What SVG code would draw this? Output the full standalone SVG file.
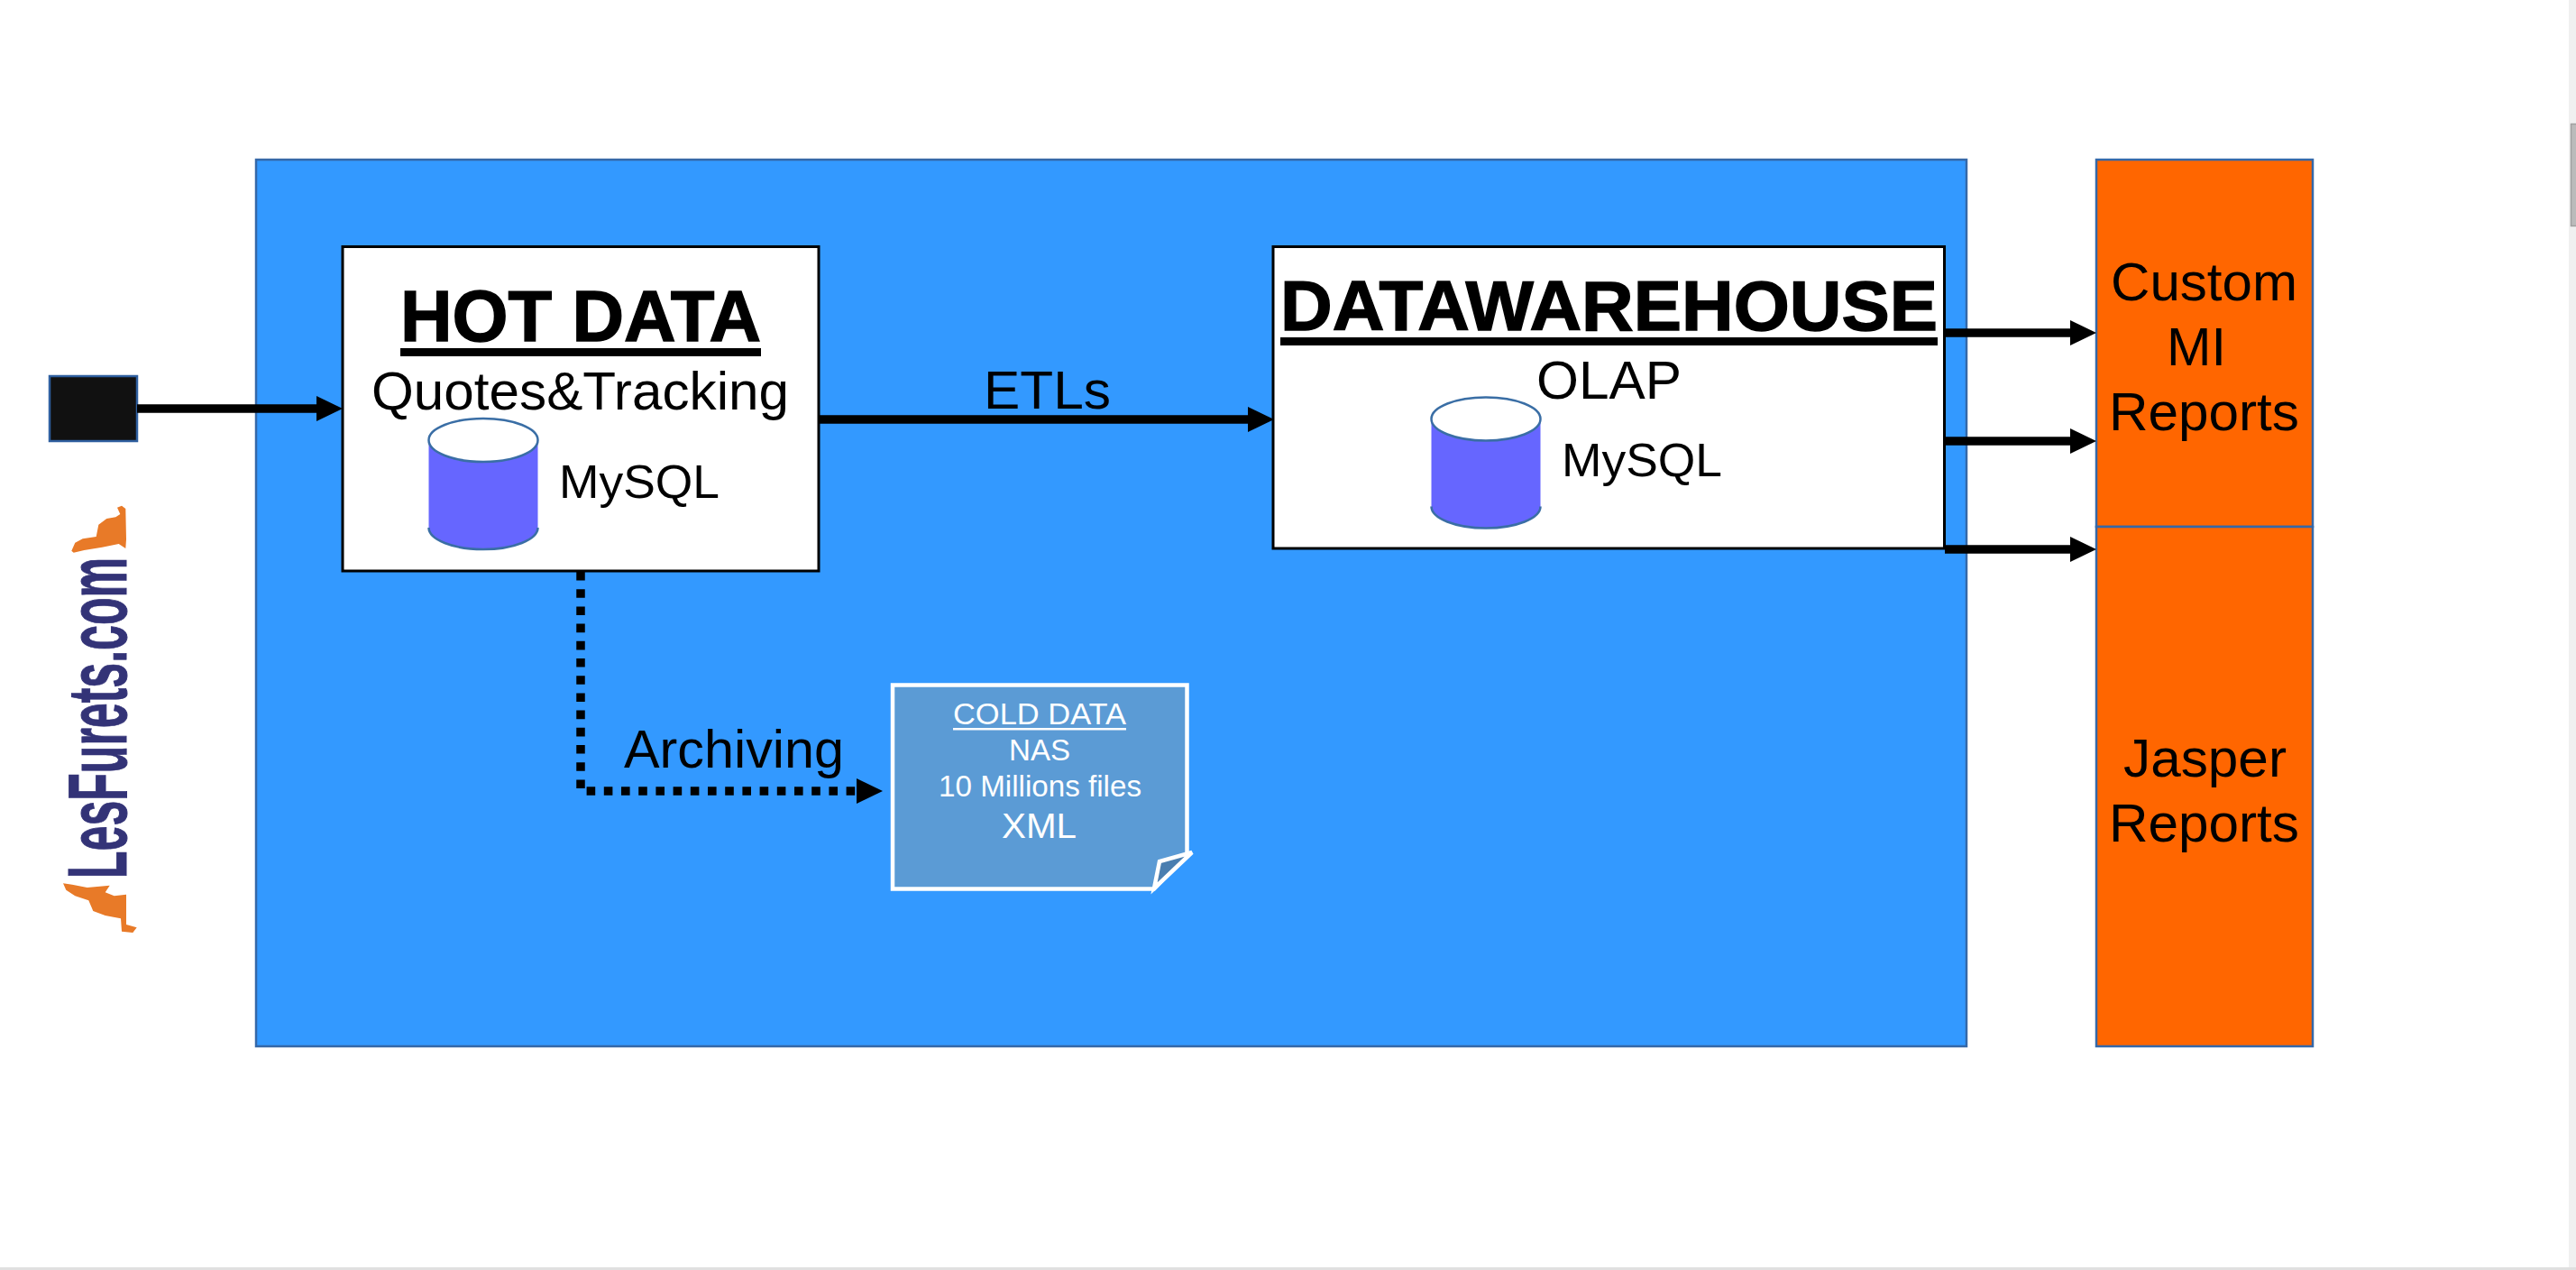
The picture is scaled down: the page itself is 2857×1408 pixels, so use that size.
<svg xmlns="http://www.w3.org/2000/svg" xmlns:xlink="http://www.w3.org/1999/xlink" width="2857" height="1408" viewBox="0 0 2857 1408">
<style>
text{font-family:"Liberation Sans",Arial,sans-serif;fill:#000}
.t59{font-size:59px}
.t52{font-size:52px}
.head{font-weight:700;stroke:#000;stroke-width:1.4px}
.w{fill:#fff}
.t34{font-size:34px}
.panel{stroke:#3568a8;stroke-width:2.5}
.box{fill:#fff;stroke:#000;stroke-width:3}
.conn{fill:none;stroke:#000;stroke-width:9.5}
.cat{fill:#e87a28}
</style>
<defs>
<marker id="arrow" markerUnits="userSpaceOnUse" markerWidth="30" markerHeight="30" refX="2" refY="15" orient="auto" overflow="visible"><path d="M0 1L29 15L0 29Z" fill="#000"/></marker>
<g id="cyl">
<path d="M475.5 488V585A60.5 24 0 0 0 596.5 585V488Z" fill="#6666ff"/>
<path d="M475.5 585A60.5 24 0 0 0 596.5 585" fill="none" stroke="#3a6ea5" stroke-width="2.5"/>
<ellipse cx="536" cy="488" rx="60.5" ry="24" fill="#fff" stroke="#3a6ea5" stroke-width="2.5"/>
</g>
</defs>
<rect width="2857" height="1408" fill="#fff"/>
<rect x="2849" y="0" width="8" height="1408" fill="#f0f0f0"/>
<rect x="2851.5" y="137.5" width="7" height="113" fill="#bbb" stroke="#a0a0a0" stroke-width="1.5"/>
<rect x="0" y="1405" width="2857" height="3" fill="#e0e0e0"/>

<g id="platform"><rect class="panel" x="284" y="177" width="1897" height="983" fill="#3399ff"/></g>

<g id="source"><rect x="55" y="417" width="97" height="72" fill="#111" stroke="#2f5f9f" stroke-width="2.5"/></g>

<g id="logo">
<path class="cat" d="M79.3 610.7L83.3 601.7L91.7 597.3L106.7 595L109.3 581.7L118.3 575L128.3 573.3L133.3 570L130 562.7L135 560.7L139.3 564L140 598L139.3 608L131.7 603L113.3 606.7L93.3 610L81.7 612.7Z"/>
<text transform="translate(140,974) rotate(-90)" x="0" y="0" font-size="92" font-weight="700" style="fill:#333377;stroke:#333377;stroke-width:1" textLength="356" lengthAdjust="spacingAndGlyphs">LesFurets.com</text>
<path class="cat" d="M70 979.3L80 980.7L96.7 984L121.7 981.7L116.7 989.3L126.7 993.3L140 991.7L140 1025L151.7 1028.3L147.3 1034L135 1032.7L134 1018.3L116.7 1015L103.3 1010L98.3 998.3L83.3 993.3L73.3 986.7Z"/>
</g>

<g id="hot-data">
<rect class="box" x="380" y="273.5" width="528" height="359.5"/>
<text class="head" x="444" y="378" font-size="80" textLength="400" lengthAdjust="spacingAndGlyphs">HOT DATA</text>
<rect x="444" y="386" width="400" height="9" fill="#000"/>
<text class="t59" x="412" y="454" textLength="463" lengthAdjust="spacingAndGlyphs">Quotes&amp;Tracking</text>
<use href="#cyl" xlink:href="#cyl"/>
<text class="t52" x="620" y="552" textLength="178" lengthAdjust="spacingAndGlyphs">MySQL</text>
</g>

<g id="datawarehouse">
<rect class="box" x="1412" y="273.5" width="744.5" height="334.5"/>
<text class="head" x="1420" y="366" font-size="78" textLength="729" lengthAdjust="spacingAndGlyphs">DATAWAREHOUSE</text>
<rect x="1420" y="374" width="729" height="9" fill="#000"/>
<text class="t59" x="1704" y="442" textLength="161" lengthAdjust="spacingAndGlyphs">OLAP</text>
<use href="#cyl" xlink:href="#cyl" transform="translate(1112,-23.5)"/>
<text class="t52" x="1732" y="528" textLength="178" lengthAdjust="spacingAndGlyphs">MySQL</text>
</g>

<g id="cold-data">
<path d="M990 759.5H1316.5V947L1280 985.5H990Z" fill="#5b9bd5" stroke="#fff" stroke-width="4.5"/>
<path d="M1322 945L1286 955L1280 985Z" fill="#4a7eb0" stroke="#fff" stroke-width="4.5"/>
<text class="w t34" x="1057" y="803" textLength="192" lengthAdjust="spacingAndGlyphs">COLD DATA</text>
<rect x="1057" y="807" width="192" height="2.5" fill="#fff"/>
<text class="w t34" x="1119" y="843" textLength="68" lengthAdjust="spacingAndGlyphs">NAS</text>
<text class="w t34" x="1041" y="883" textLength="225" lengthAdjust="spacingAndGlyphs">10 Millions files</text>
<text class="w" font-size="39" x="1111" y="929" textLength="83" lengthAdjust="spacingAndGlyphs">XML</text>
</g>

<g id="custom-mi-reports">
<rect class="panel" x="2325" y="177" width="240" height="407" fill="#ff6600"/>
<text class="t59" x="2341" y="333" textLength="207" lengthAdjust="spacingAndGlyphs">Custom</text>
<text class="t59" x="2403" y="405" textLength="66" lengthAdjust="spacingAndGlyphs">MI</text>
<text class="t59" x="2339" y="477" textLength="211" lengthAdjust="spacingAndGlyphs">Reports</text>
</g>

<g id="jasper-reports">
<rect class="panel" x="2325" y="584" width="240" height="576" fill="#ff6600"/>
<text class="t59" x="2355" y="861" textLength="181" lengthAdjust="spacingAndGlyphs">Jasper</text>
<text class="t59" x="2339" y="933" textLength="211" lengthAdjust="spacingAndGlyphs">Reports</text>
</g>

<g id="connectors">
<path class="conn" d="M152 453H353" marker-end="url(#arrow)"/>
<path class="conn" d="M908 465H1386" marker-end="url(#arrow)"/>
<path class="conn" d="M2157 369H2298" marker-end="url(#arrow)"/>
<path class="conn" d="M2157 489H2298" marker-end="url(#arrow)"/>
<path class="conn" d="M2157 609H2298" marker-end="url(#arrow)"/>
<path class="conn" d="M644 634V877H952" stroke-dasharray="9.6 9.6" marker-end="url(#arrow)"/>
</g>

<g id="labels">
<text class="t59" x="1091" y="453" textLength="141" lengthAdjust="spacingAndGlyphs">ETLs</text>
<text class="t59" x="692" y="851" textLength="244" lengthAdjust="spacingAndGlyphs">Archiving</text>
</g>
</svg>
